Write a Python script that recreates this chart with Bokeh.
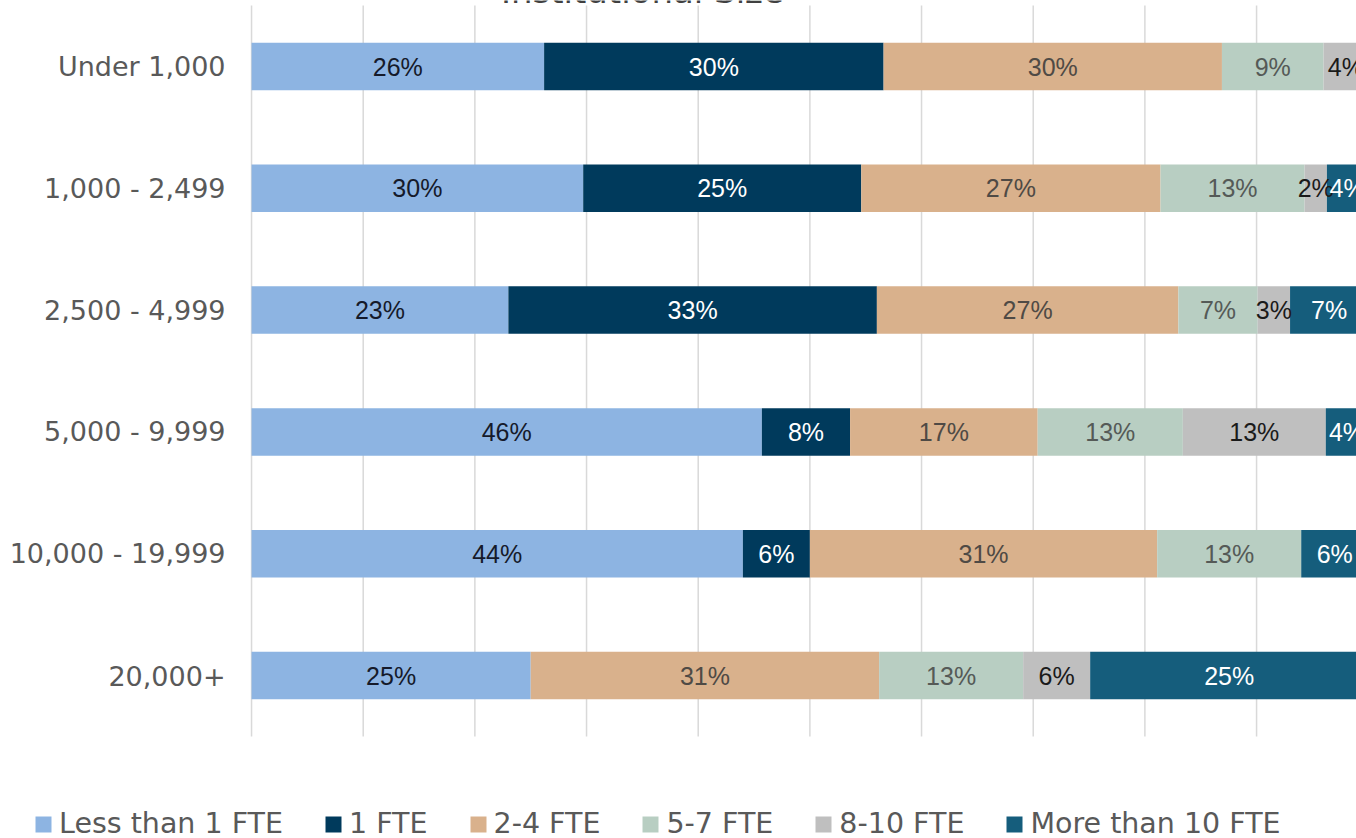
from bokeh.plotting import figure
from bokeh.models import ColumnDataSource, Range1d
from bokeh.core.properties import value
from bokeh.embed import file_html
from bokeh.resources import INLINE

categories = ["Under 1,000", "1,000 - 2,499", "2,500 - 4,999", "5,000 - 9,999",
              "10,000 - 19,999", "20,000+"]
series = ["Less than 1 FTE", "1 FTE", "2-4 FTE", "5-7 FTE", "8-10 FTE", "More than 10 FTE"]

less_than_1 = [26.2, 29.7, 23.0, 45.7, 44.0, 25.0]
fte_1 = [30.4, 24.9, 33.0, 7.9, 6.0, 0.0]
fte_2_4 = [30.3, 26.8, 27.0, 16.8, 31.1, 31.2]
fte_5_7 = [9.1, 12.9, 7.1, 13.0, 12.9, 12.9]
fte_8_10 = [4.0, 2.0, 2.9, 12.8, 0.0, 6.0]
more_10 = [0.0, 3.7, 7.0, 3.8, 6.0, 24.9]

x_ticks = [0, 10, 20, 30, 40, 50, 60, 70, 80, 90, 100]
title_text = "Institutional Size"

colors = ["#8db4e2", "#003a5c", "#d9b18c", "#b8cec2", "#bfbfbf", "#155d7c"]
label_colors = ["#151a2a", "#ffffff", "#4f4a45", "#555a57", "#1a1a1a", "#ffffff"]

values = [less_than_1, fte_1, fte_2_4, fte_5_7, fte_8_10, more_10]
n = len(categories)
y_pos = [n - 0.5 - i for i in range(n)]

data = {"y": y_pos}
for name, vals in zip(series, values):
    data[name] = vals
source = ColumnDataSource(data)

# the whole canvas is the frame; 1% = 11.167 px, one category band = 121.8 px
p = figure(width=1356, height=838,
           x_range=Range1d(-22.48, 98.95),
           y_range=Range1d(-0.838, 6.042),
           output_backend="svg", toolbar_location=None,
           min_border=0)
p.axis.visible = False
p.grid.visible = False
p.outline_line_color = None

# vertical gridlines over the category area
p.segment(x0=x_ticks, y0=[0] * len(x_ticks), x1=x_ticks, y1=[n] * len(x_ticks),
          line_color="#d9d9d9", line_width=1.5)

p.hbar_stack(series, y="y", height=0.39, color=colors, line_color=None,
             source=source, legend_label=series)

# segment labels
lx, ly, lt, lc = [], [], [], []
for i in range(n):
    cum = 0.0
    for s, vals in enumerate(values):
        v = vals[i]
        if v > 0:
            lx.append(cum + v / 2.0)
            ly.append(y_pos[i])
            lt.append(f"{int(v + 0.5)}%")
            lc.append(label_colors[s])
        cum += v
lab_src = ColumnDataSource(dict(x=lx, y=ly, text=lt, color=lc))
p.text(x="x", y="y", text="text", source=lab_src, text_color="color",
       text_align="center", text_baseline="middle",
       text_font=value("Liberation Sans"), text_font_size="25px")

# category labels
p.text(x=[-2.33] * n, y=y_pos, text=categories, text_color="#595959",
       text_align="right", text_baseline="middle",
       text_font=value("DejaVu Sans"), text_font_size="27px")

# title, cut off at the top edge as in the reference
p.text(x=[35.0], y=[6.124], text=[title_text], text_color="#404040",
       text_align="center", text_baseline="alphabetic",
       text_font=value("DejaVu Sans"), text_font_size="34px")

lg = p.legend[0]
lg.location = (33, -2)
lg.orientation = "horizontal"
lg.label_text_font = "DejaVu Sans"
lg.label_text_font_size = "28.5px"
lg.label_text_color = "#595959"
lg.glyph_width = 20
lg.glyph_height = 20
lg.label_standoff = 6
lg.spacing = 40
lg.padding = 0
lg.margin = 0
lg.border_line_color = None
lg.background_fill_alpha = 0

open("out.html", "w").write(file_html(p, INLINE))
